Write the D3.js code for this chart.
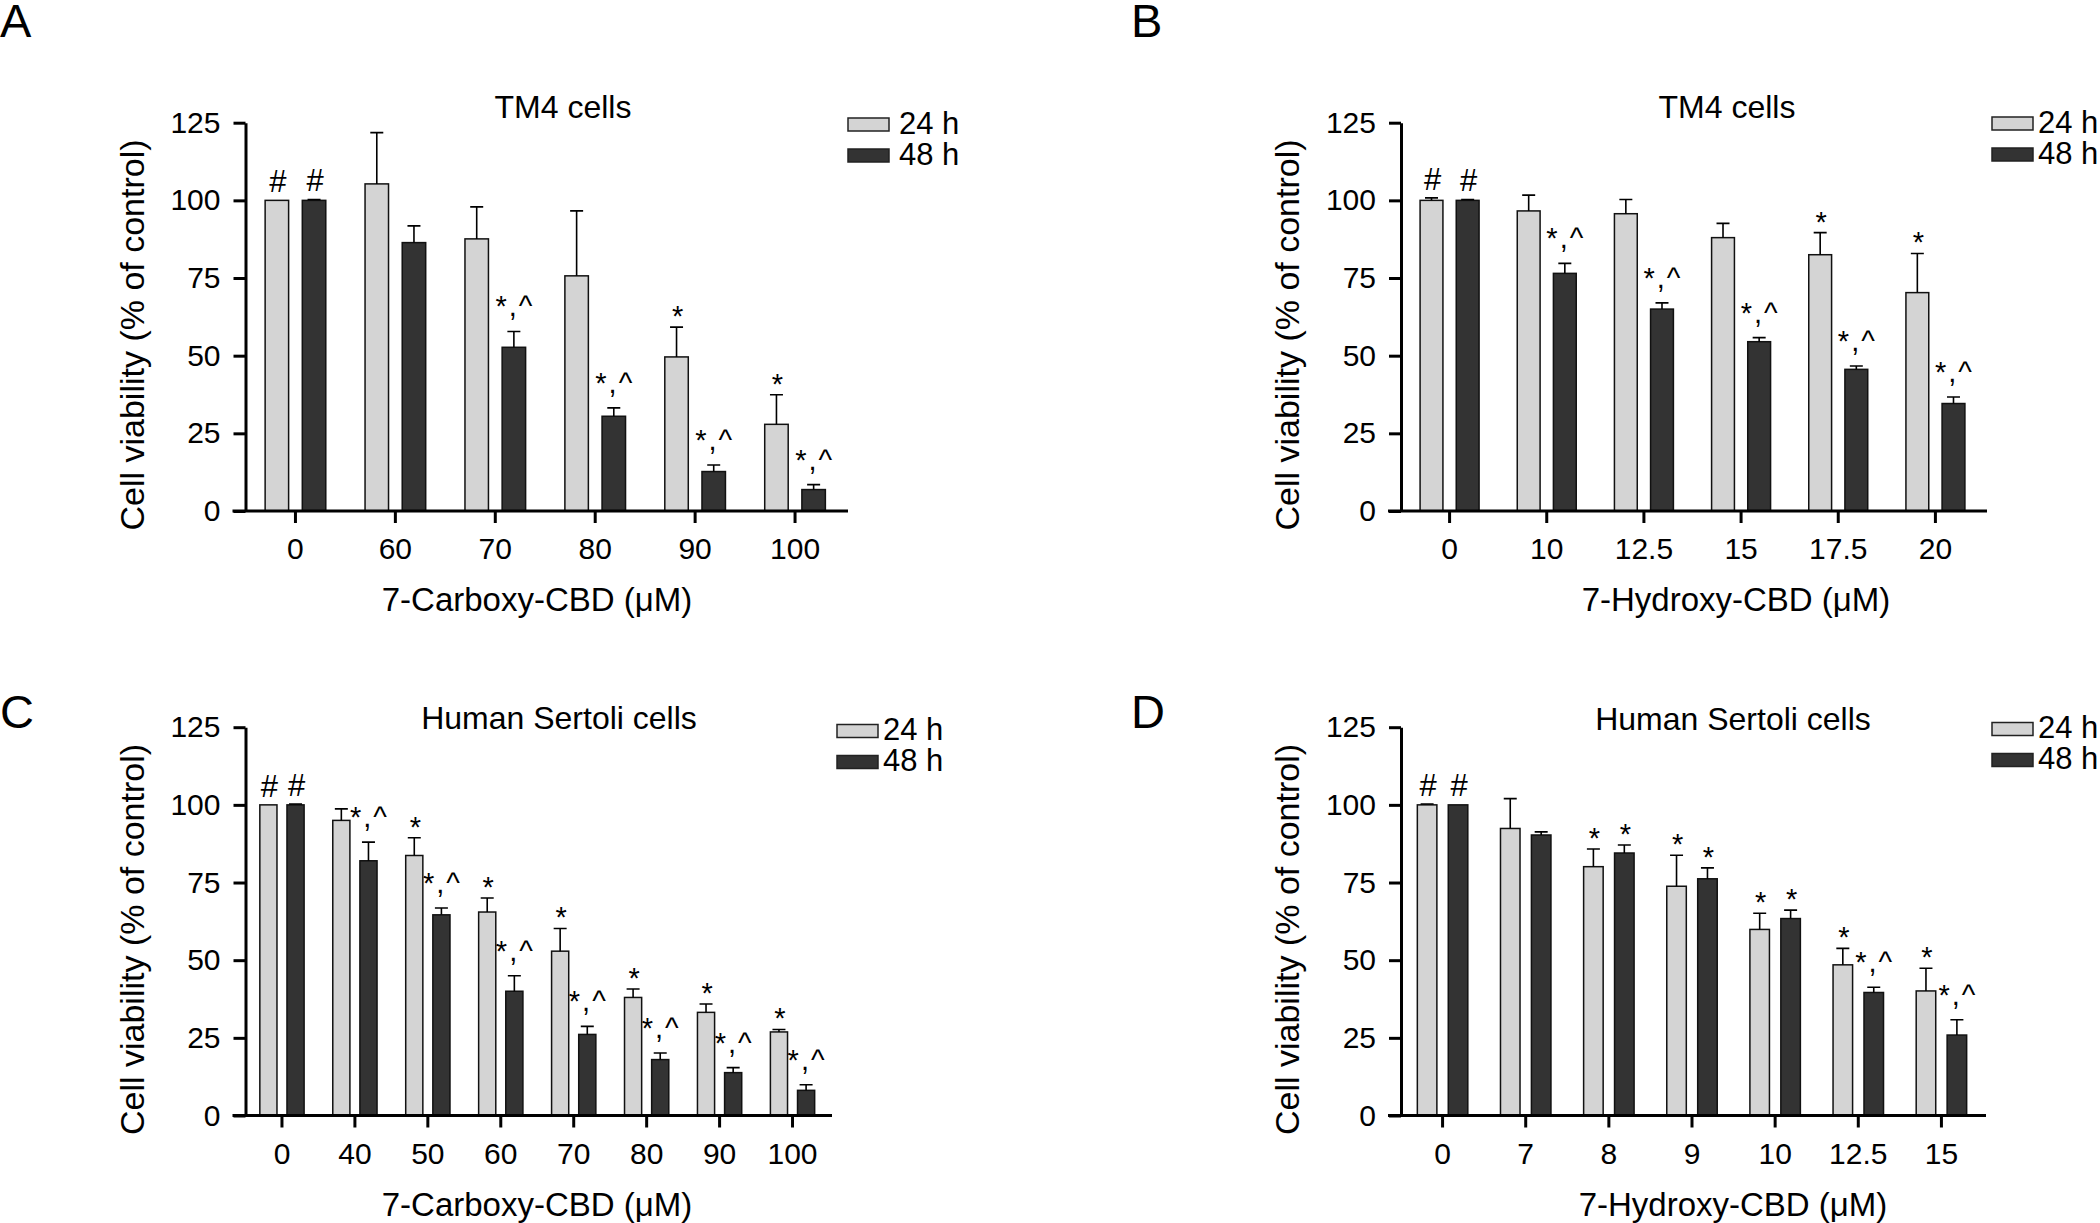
<!DOCTYPE html>
<html>
<head>
<meta charset="utf-8">
<script src="https://cdn.jsdelivr.net/npm/d3@7"></script>
<style>
  html, body { margin: 0; padding: 0; background: #fff; }
  svg { display: block; font-family: "Liberation Sans", Arial, Helvetica, sans-serif; }
</style>
</head>
<body>
<svg id="chart" width="2100" height="1223"></svg>
<script>
// ---------------- DATA ----------------
const seriesNames = ["24 h", "48 h"];
const yTicks = [0, 25, 50, 75, 100, 125];

// Panel A: TM4 cells, 7-Carboxy-CBD
const catsA = ["0", "60", "70", "80", "90", "100"];
const a24 = [100, 105.3, 87.6, 75.7, 49.6, 27.9];
const a24err = [0, 16.5, 10.3, 20.9, 9.6, 9.5];
const a48 = [100, 86.4, 52.7, 30.5, 12.7, 6.9];
const a48err = [0.3, 5.4, 5.1, 2.7, 2.1, 1.6];
const a24sig = ["#", "", "", "", "*", "*"];
const a48sig = ["#", "", "*,^", "*,^", "*,^", "*,^"];

// Panel B: TM4 cells, 7-Hydroxy-CBD
const catsB = ["0", "10", "12.5", "15", "17.5", "20"];
const b24 = [100, 96.6, 95.7, 88.0, 82.5, 70.3];
const b24err = [0.8, 5.1, 4.6, 4.6, 7.1, 12.6];
const b48 = [100, 76.5, 65.0, 54.5, 45.6, 34.6];
const b48err = [0.3, 3.2, 2.0, 1.3, 1.1, 2.1];
const b24sig = ["#", "", "", "", "*", "*"];
const b48sig = ["#", "*,^", "*,^", "*,^", "*,^", "*,^"];

// Panel C: Human Sertoli cells, 7-Carboxy-CBD
const catsC = ["0", "40", "50", "60", "70", "80", "90", "100"];
const c24 = [100, 95.0, 83.7, 65.5, 52.9, 38.0, 33.2, 26.9];
const c24err = [0, 3.7, 5.7, 4.5, 7.3, 2.7, 2.7, 0.8];
const c48 = [100, 82.0, 64.6, 40.0, 26.1, 18.0, 13.8, 8.1];
const c48err = [0.3, 6.0, 2.2, 5.0, 2.6, 2.1, 1.6, 1.8];
const c24sig = ["#", "", "*", "*", "*", "*", "*", "*"];
const c48sig = ["#", "*,^", "*,^", "*,^", "*,^", "*,^", "*,^", "*,^"];

// Panel D: Human Sertoli cells, 7-Hydroxy-CBD
const catsD = ["0", "7", "8", "9", "10", "12.5", "15"];
const d24 = [100, 92.4, 80.1, 73.8, 59.9, 48.5, 40.1];
const d24err = [0.3, 9.6, 5.7, 10.0, 5.2, 5.3, 7.3];
const d48 = [100, 90.3, 84.5, 76.2, 63.4, 39.6, 25.9];
const d48err = [0.2, 1.0, 2.6, 3.5, 2.7, 1.7, 4.9];
const d24sig = ["#", "", "*", "*", "*", "*", "*"];
const d48sig = ["#", "", "*", "*", "*", "*,^", "*,^"];

const panelLabels = ["A", "B", "C", "D"];
const panelTitles = ["TM4 cells", "TM4 cells", "Human Sertoli cells", "Human Sertoli cells"];
const xTitles = ["7-Carboxy-CBD (μM)", "7-Hydroxy-CBD (μM)", "7-Carboxy-CBD (μM)", "7-Hydroxy-CBD (μM)"];
const yTitle = "Cell viability (% of control)";

// ---------------- LAYOUT ----------------
const colors = ["#d4d4d4", "#333333"];
const layouts = [
  { axisX: 245.5, rangeEnd: 845,  y0: 511,    yTop: 122.7, labelX: 0,    labelY: 37,  titleX: 563,  titleY: 118,   xTitleX: 537,  legX: 848,  legY: 118,   legTextX: 899 },
  { axisX: 1401,  rangeEnd: 1984, y0: 511,    yTop: 122.7, labelX: 1131, labelY: 37,  titleX: 1727, titleY: 118,   xTitleX: 1736, legX: 1992, legY: 117,   legTextX: 2038 },
  { axisX: 245.5, rangeEnd: 829,  y0: 1115.5, yTop: 727.2, labelX: 0,    labelY: 728, titleX: 559,  titleY: 728.5, xTitleX: 537,  legX: 837,  legY: 724.5, legTextX: 883 },
  { axisX: 1401,  rangeEnd: 1983, y0: 1115.5, yTop: 727.2, labelX: 1131, labelY: 728, titleX: 1733, titleY: 729.5, xTitleX: 1733, legX: 1992, legY: 722.5, legTextX: 2038 }
];

const panelData = [
  { cats: catsA, vals: [a24, a48], errs: [a24err, a48err], sigs: [a24sig, a48sig] },
  { cats: catsB, vals: [b24, b48], errs: [b24err, b48err], sigs: [b24sig, b48sig] },
  { cats: catsC, vals: [c24, c48], errs: [c24err, c48err], sigs: [c24sig, c48sig] },
  { cats: catsD, vals: [d24, d48], errs: [d24err, d48err], sigs: [d24sig, d48sig] }
];

const svg = d3.select("#chart");
svg.append("rect").attr("width", 2100).attr("height", 1223).attr("fill", "#fff");

panelData.forEach((pd, pi) => {
  const L = layouts[pi];
  const g = svg.append("g");

  const x = d3.scaleBand().domain(pd.cats).range([L.axisX, L.rangeEnd]).paddingInner(0).paddingOuter(0);
  const y = d3.scaleLinear().domain([0, 125]).range([L.y0, L.yTop]);
  const step = x.step();
  const bw = step * 0.235;
  const gap = step * 0.137;
  const offs = [-gap / 2 - bw, gap / 2];

  pd.vals.forEach((vals, si) => {
    const gs = g.append("g");
    gs.selectAll("rect.bar").data(pd.cats).join("rect")
      .attr("class", "bar")
      .attr("x", c => x(c) + step / 2 + offs[si])
      .attr("y", (c, i) => y(vals[i]))
      .attr("width", bw)
      .attr("height", (c, i) => y(0) - y(vals[i]))
      .attr("fill", colors[si])
      .attr("stroke", "#111")
      .attr("stroke-width", 1.5);

    const errs = pd.errs[si];
    const cap = 13;
    gs.selectAll("path.err").data(pd.cats).join("path")
      .attr("class", "err")
      .attr("d", (c, i) => {
        if (errs[i] < 0.25) return null;
        const cx = x(c) + step / 2 + offs[si] + bw / 2;
        const yt = y(vals[i] + errs[i]);
        return `M${cx},${y(vals[i])}V${yt}M${cx - cap / 2},${yt}H${cx + cap / 2}`;
      })
      .attr("fill", "none")
      .attr("stroke", "#000")
      .attr("stroke-width", 1.6);

    const sigs = pd.sigs[si];
    gs.selectAll("text.sig").data(pd.cats).join("text")
      .attr("class", "sig")
      .attr("x", c => x(c) + step / 2 + offs[si] + bw / 2 + 1)
      .attr("y", (c, i) => {
        const yt = y(vals[i] + errs[i]);
        const s = sigs[i];
        if (s === "#") return yt - 8;
        if (s === "*") return yt - 1;
        return yt - 15;
      })
      .attr("text-anchor", "middle")
      .attr("font-size", (c, i) => sigs[i] === "#" ? 31 : 29)
      .attr("letter-spacing", (c, i) => sigs[i] === "*,^" ? 2 : 0)
      .attr("fill", "#000")
      .text((c, i) => sigs[i]);
  });

  // y axis
  const yAxis = d3.axisLeft(y).tickValues(yTicks).tickSize(12).tickSizeOuter(0).tickPadding(13);
  const ya = g.append("g").attr("transform", `translate(${L.axisX},0)`).call(yAxis);
  ya.select(".domain").attr("stroke-width", 3).attr("stroke", "#000");
  ya.selectAll(".tick line").attr("stroke-width", 3).attr("stroke", "#000");
  ya.selectAll(".tick text").attr("font-size", 30).attr("font-family", null).attr("fill", "#000");

  // x axis
  const xAxis = d3.axisBottom(x).tickSize(12).tickSizeOuter(0).tickPadding(15)
    .tickValues(pd.cats).tickFormat(d => d);
  const xa = g.append("g").attr("transform", `translate(0,${L.y0})`).call(xAxis);
  xa.select(".domain").remove();
  xa.append("line").attr("x1", L.axisX - 13).attr("x2", L.rangeEnd + 3)
    .attr("y1", 0).attr("y2", 0).attr("stroke", "#000").attr("stroke-width", 3);
  xa.selectAll(".tick line").attr("stroke-width", 3).attr("stroke", "#000");
  xa.selectAll(".tick text").attr("font-size", 30).attr("font-family", null).attr("fill", "#000");

  // titles
  g.append("text").attr("x", L.titleX).attr("y", L.titleY)
    .attr("text-anchor", "middle").attr("font-size", 32).text(panelTitles[pi]);
  g.append("text").attr("x", L.xTitleX).attr("y", L.y0 + 100)
    .attr("text-anchor", "middle").attr("font-size", 33).text(xTitles[pi]);
  g.append("text")
    .attr("transform", `translate(${L.axisX - 102},${L.y0 - 176}) rotate(-90)`)
    .attr("text-anchor", "middle").attr("font-size", 34).text(yTitle);

  // panel label
  g.append("text").attr("x", L.labelX).attr("y", L.labelY)
    .attr("font-size", 47).text(panelLabels[pi]);

  // legend
  seriesNames.forEach((s, si) => {
    const ry = L.legY + si * 31;
    g.append("rect").attr("x", L.legX).attr("y", ry).attr("width", 41).attr("height", 13)
      .attr("fill", colors[si]).attr("stroke", "#222").attr("stroke-width", 1.5);
    g.append("text").attr("x", L.legTextX).attr("y", ry + 15.5)
      .attr("font-size", 31).text(s);
  });
});
</script>
</body>
</html>
